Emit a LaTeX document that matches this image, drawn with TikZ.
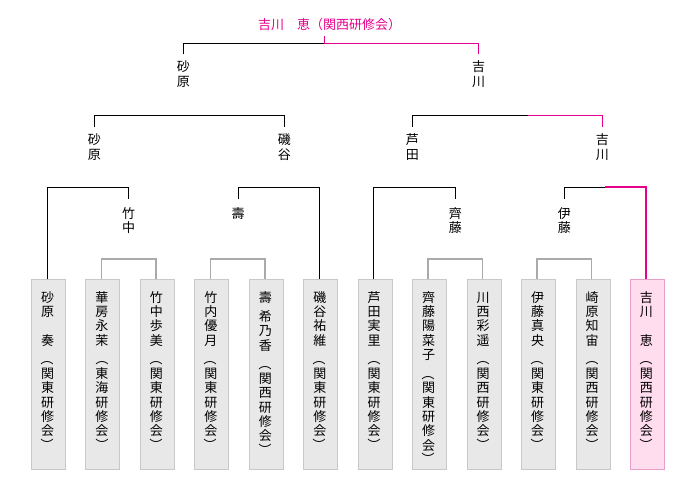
\documentclass[tikz,border=0pt]{standalone}
\usepackage{fontspec}
\usepackage{graphicx}
\newfontfamily\jp{Noto Sans CJK JP}
\definecolor{champ}{RGB}{230,0,140}
\definecolor{boxfill}{RGB}{232,232,232}
\definecolor{boxline}{RGB}{200,200,200}
\definecolor{pinkfill}{RGB}{255,221,238}
\definecolor{pinkline}{RGB}{232,160,200}
\definecolor{roundone}{RGB}{170,170,170}
\makeatletter
\newcommand\vrow[1]{\hbox{\vrule height 12.1pt depth 2.2pt width 0pt\hbox to 14pt{\hss\smash{#1}\hss}}}
\def\vstr#1{\vbox{\offinterlineskip\vstr@loop#1\relax}}
\def\vstr@loop#1{\ifx#1\relax\else\vstr@item{#1}\expandafter\vstr@loop\fi}
\def\vstr@item#1{\ifx#1(\vrow{\rotatebox[origin=c]{-90}{（}}\else\ifx#1)\vrow{\rotatebox[origin=c]{-90}{）}}\else\ifx#1|\vskip5pt\relax\else\vrow{#1}\fi\fi\fi}
\makeatother
\tikzset{
  vtext/.style={anchor=north,inner sep=0pt,outer sep=0pt,font=\jp\fontsize{13}{14.3}\selectfont},
  playerbox/.style={draw=boxline,fill=boxfill,line width=1pt,minimum width=34pt,minimum height=190pt,inner sep=0pt},
  champbox/.style={draw=pinkline,fill=pinkfill,line width=1pt,minimum width=34pt,minimum height=190pt,inner sep=0pt},
  blk/.style={draw=black,line width=1pt},
  pk/.style={draw=champ,line width=1.1pt},
  gr/.style={draw=roundone,line width=1.5pt}
}
\begin{document}
\begin{tikzpicture}[x=1pt,y=-1pt]
\useasboundingbox (0,0) rectangle (680,480);
% title
\node[inner sep=0pt,font=\jp\fontsize{13}{15}\selectfont,text=champ] (title) at (329.5,25) {吉川　恵（関西研修会）};
% boxes
\node[playerbox] (b1) at (48.5,374) {};
\node[playerbox] (b2) at (102.95,374) {};
\node[playerbox] (b3) at (157.4,374) {};
\node[playerbox] (b4) at (211.85,374) {};
\node[playerbox] (b5) at (266.3,374) {};
\node[playerbox] (b6) at (320.75,374) {};
\node[playerbox] (b7) at (375.2,374) {};
\node[playerbox] (b8) at (429.65,374) {};
\node[playerbox] (b9) at (484.1,374) {};
\node[playerbox] (b10) at (538.55,374) {};
\node[playerbox] (b11) at (593,374) {};
\node[champbox] (b12) at (647.45,374) {};
% box texts
\node[vtext] (t1) at (47.5,290) {\vstr{砂原　奏|(関東研修会)}};
\node[vtext] (t2) at (101.95,290) {\vstr{華房永茉|(東海研修会)}};
\node[vtext] (t3) at (156.4,290) {\vstr{竹中歩美|(関東研修会)}};
\node[vtext] (t4) at (210.85,290) {\vstr{竹内優月|(関東研修会)}};
\node[vtext] (t5) at (265.3,290) {\vstr{壽|希乃香|(関西研修会)}};
\node[vtext] (t6) at (319.75,290) {\vstr{磯谷祐維|(関東研修会)}};
\node[vtext] (t7) at (374.2,290) {\vstr{芦田実里|(関東研修会)}};
\node[vtext] (t8) at (428.65,290) {\vstr{齊藤陽菜子|(関東研修会)}};
\node[vtext] (t9) at (483.1,290) {\vstr{川西彩遥|(関西研修会)}};
\node[vtext] (t10) at (537.55,290) {\vstr{伊藤真央|(関東研修会)}};
\node[vtext] (t11) at (592,290) {\vstr{崎原知宙|(関西研修会)}};
\node[vtext] (t12) at (646.45,290) {\vstr{吉川　恵|(関西研修会)}};
% box connection points
\coordinate (p1) at (47,279);
\coordinate (p2) at (101.45,279);
\coordinate (p3) at (155.9,279);
\coordinate (p4) at (210.35,279);
\coordinate (p5) at (264.8,279);
\coordinate (p6) at (319.25,279);
\coordinate (p7) at (373.7,279);
\coordinate (p8) at (428.15,279);
\coordinate (p9) at (482.6,279);
\coordinate (p10) at (537.05,279);
\coordinate (p11) at (591.5,279);
\coordinate (p12) at (645.95,279);
% round 1 (gray)
\draw[gr] (p2) -- ++(0,-20) -| (p3);
\draw[gr] (p4) -- ++(0,-20) -| (p5);
\draw[gr] (p8) -- ++(0,-20) -| (p9);
\draw[gr] (p10) -- ++(0,-20) -| (p11);
% round 2 labels
\node[vtext] (w23) at (128.7,206.35) {\vstr{竹中}};
\node[vtext] (w45) at (238.05,206.35) {\vstr{壽}};
\node[vtext] (w89) at (455.4,206.35) {\vstr{齊藤}};
\node[vtext] (w1011) at (564.3,206.35) {\vstr{伊藤}};
\coordinate (c23) at (128.7,199);
\coordinate (c45) at (238.05,199);
\coordinate (c89) at (455.4,199);
\coordinate (c1011) at (564.3,199);
\coordinate (m2r) at (605.1,187);
% round 2 brackets
\draw[blk] (p1) -- ++(0,-92) -| (c23);
\draw[blk] (c45) -- ++(0,-12) -| (p6);
\draw[blk] (p7) -- ++(0,-92) -| (c89);
\draw[blk] (c1011) -- ++(0,-12) -- (m2r);
\draw[pk] (m2r) -| (p12);
% round 3 labels
\node[vtext] (s1) at (94.3,132.85) {\vstr{砂原}};
\node[vtext] (s2) at (284.3,132.85) {\vstr{磯谷}};
\node[vtext] (s3) at (412.3,132.85) {\vstr{芦田}};
\node[vtext] (s4) at (602.3,132.85) {\vstr{吉川}};
\coordinate (d1) at (94.3,127);
\coordinate (d2) at (284.3,127);
\coordinate (d3) at (412.3,127);
\coordinate (d4) at (602.3,127);
\coordinate (m3r) at (528.3,115.3);
\draw[blk] (d1) -- ++(0,-11.7) -| (d2);
\draw[blk] (d3) -- ++(0,-11.7) -- (m3r);
\draw[pk] (m3r) -| (d4);
% final labels
\node[vtext] (f1) at (183.3,59.85) {\vstr{砂原}};
\node[vtext] (f2) at (478.7,59.85) {\vstr{吉川}};
\coordinate (e1) at (183.3,54.3);
\coordinate (e2) at (478.7,54.3);
\coordinate (mf) at (324.3,43.3);
\coordinate (tb) at (324.3,36);
\draw[blk] (e1) -- ++(0,-11) -- (mf);
\draw[pk] (mf) -| (e2);
\draw[pk] (tb) -- (mf);
\end{tikzpicture}
\end{document}
